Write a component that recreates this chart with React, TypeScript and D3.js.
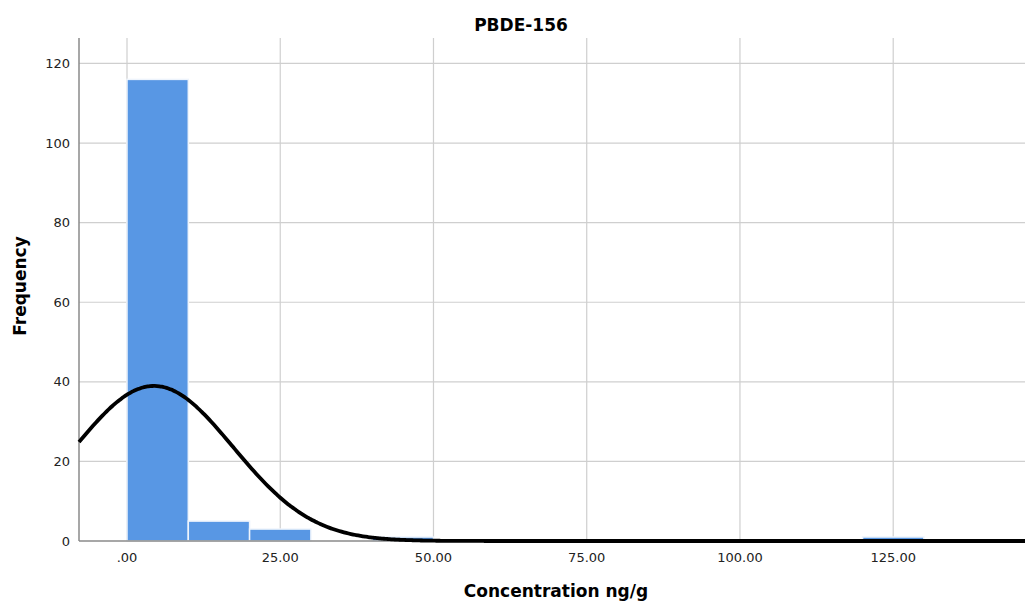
import React, { useRef, useEffect } from 'react';
import * as d3 from 'd3';

const width = 1025;
const height = 604;

// histogram bins (start of bin, bin width 10)
const binStarts = [0, 10, 20, 40, 120];
const counts = [116, 5, 3, 1, 1];
const binWidth = 10;

const xTicks = [0, 25, 50, 75, 100, 125];
const yTicks = [0, 20, 40, 60, 80, 100, 120];

// fitted normal curve parameters
const mean = 4.4;
const sd = 12.9;

const margin = { top: 38, right: 0, bottom: 63, left: 79 };
const font = '"DejaVu Sans", sans-serif';

const draw = (node: SVGSVGElement) => {
  const svg = d3.select(node);
  svg.selectAll('*').remove();

  const x = d3.scaleLinear().domain([-7.83, 146.5]).range([margin.left, width - margin.right]);
  const y = d3.scaleLinear().domain([0, 126.4]).range([height - margin.bottom, margin.top]);

  svg.append('rect').attr('width', width).attr('height', height).attr('fill', 'white');

  // grid
  svg.append('g')
    .selectAll('line')
    .data(yTicks.filter(d => d > 0))
    .join('line')
    .attr('x1', margin.left).attr('x2', width - margin.right)
    .attr('y1', d => y(d)).attr('y2', d => y(d))
    .attr('stroke', '#cfcfcf').attr('stroke-width', 1.2);
  svg.append('g')
    .selectAll('line')
    .data(xTicks)
    .join('line')
    .attr('x1', d => x(d)).attr('x2', d => x(d))
    .attr('y1', margin.top).attr('y2', y(0))
    .attr('stroke', '#cfcfcf').attr('stroke-width', 1.2);

  // bars
  svg.append('g')
    .selectAll('rect')
    .data(binStarts.map((s, i) => ({ s, c: counts[i] })))
    .join('rect')
    .attr('x', d => x(d.s))
    .attr('width', d => x(d.s + binWidth) - x(d.s))
    .attr('y', d => y(d.c))
    .attr('height', d => y(0) - y(d.c))
    .attr('fill', '#5897e4')
    .attr('stroke', '#eef4fc')
    .attr('stroke-width', 1.5);

  // axes
  svg.append('line')
    .attr('x1', margin.left).attr('x2', margin.left)
    .attr('y1', margin.top).attr('y2', y(0))
    .attr('stroke', '#8a8a8a').attr('stroke-width', 1.5);
  svg.append('line')
    .attr('x1', margin.left).attr('x2', width)
    .attr('y1', y(0)).attr('y2', y(0))
    .attr('stroke', '#8a8a8a').attr('stroke-width', 1.5);

  // normal curve
  const n = d3.sum(counts);
  const pdf = (v: number) =>
    (n * binWidth) / (sd * Math.sqrt(2 * Math.PI)) * Math.exp(-0.5 * ((v - mean) / sd) ** 2);
  const [x0, x1] = x.domain();
  const pts = d3.range(0, 401).map(i => x0 + (i / 400) * (x1 - x0));
  svg.append('path')
    .datum(pts)
    .attr('fill', 'none')
    .attr('stroke', 'black')
    .attr('stroke-width', 3.8)
    .attr('d', d3.line<number>().x(v => x(v)).y(v => y(pdf(v))).curve(d3.curveBasis));

  // tick labels
  svg.append('g')
    .selectAll('text')
    .data(yTicks)
    .join('text')
    .attr('x', margin.left - 9)
    .attr('y', d => y(d))
    .attr('dy', '0.35em')
    .attr('text-anchor', 'end')
    .attr('font-family', font)
    .attr('font-size', 13)
    .attr('fill', '#222')
    .text(d => d);
  svg.append('g')
    .selectAll('text')
    .data(xTicks)
    .join('text')
    .attr('x', d => x(d))
    .attr('y', y(0) + 21)
    .attr('text-anchor', 'middle')
    .attr('font-family', font)
    .attr('font-size', 13)
    .attr('fill', '#222')
    .text(d => (d === 0 ? '.00' : d3.format('.2f')(d)));

  // titles
  svg.append('text')
    .attr('x', 521).attr('y', 31)
    .attr('text-anchor', 'middle')
    .attr('font-family', font).attr('font-weight', 'bold').attr('font-size', 17)
    .text('PBDE-156');
  svg.append('text')
    .attr('x', 556).attr('y', 597)
    .attr('text-anchor', 'middle')
    .attr('font-family', font).attr('font-weight', 'bold').attr('font-size', 17)
    .text('Concentration ng/g');
  svg.append('text')
    .attr('transform', 'translate(26, 286) rotate(-90)')
    .attr('text-anchor', 'middle')
    .attr('font-family', font).attr('font-weight', 'bold').attr('font-size', 17)
    .text('Frequency');
};

export default function App() {
  const ref = useRef<SVGSVGElement>(null);
  useEffect(() => {
    if (ref.current) draw(ref.current);
  }, []);
  return (
    <div style={{ position: 'absolute', left: 0, top: 0 }}>
      <svg ref={ref} width={width} height={height} style={{ display: 'block' }} />
    </div>
  );
}
